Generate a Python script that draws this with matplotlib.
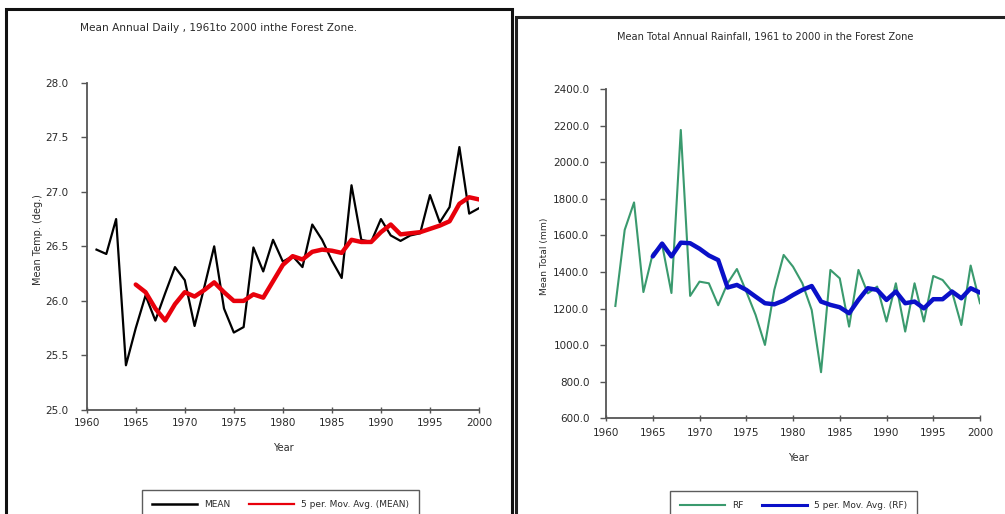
import matplotlib
matplotlib.use("Agg")
import matplotlib.pyplot as plt
from matplotlib.patches import Rectangle
from matplotlib.lines import Line2D
from matplotlib.ticker import FormatStrFormatter

plt.rcParams['font.family'] = ['DejaVu Sans']

years = list(range(1961, 2001))
ma_years = list(range(1965, 2001))

temp_mean = [26.47, 26.43, 26.75, 25.41, 25.75, 26.05, 25.82, 26.07, 26.31, 26.19,
             25.77, 26.13, 26.50, 25.93, 25.71, 25.76, 26.49, 26.27, 26.56, 26.36,
             26.41, 26.31, 26.70, 26.56, 26.37, 26.21, 27.06, 26.56, 26.54, 26.75,
             26.60, 26.55, 26.60, 26.62, 26.97, 26.72, 26.86, 27.41, 26.80, 26.85]
temp_ma = [26.15, 26.08, 25.93, 25.82, 25.97, 26.08, 26.04, 26.10, 26.17, 26.08,
           26.00, 26.00, 26.06, 26.03, 26.18, 26.33, 26.41, 26.38, 26.45, 26.47,
           26.46, 26.44, 26.56, 26.54, 26.54, 26.63, 26.70, 26.61, 26.62, 26.63,
           26.66, 26.69, 26.73, 26.89, 26.95, 26.93]

rain_rf = [1214, 1630, 1780, 1290, 1500, 1550, 1285, 2176, 1269, 1347,
           1338, 1218, 1338, 1416, 1293, 1165, 1001, 1302, 1493, 1429,
           1338, 1192, 852, 1411, 1365, 1101, 1411, 1283, 1320, 1129,
           1338, 1074, 1338, 1129, 1378, 1356, 1293, 1110, 1435, 1229]
rain_ma = [1485, 1555, 1485, 1560, 1557, 1527, 1490, 1465, 1315, 1329,
           1302, 1265, 1229, 1223, 1243, 1274, 1302, 1323, 1238, 1220,
           1207, 1174, 1247, 1311, 1302, 1247, 1293, 1229, 1238, 1201,
           1251, 1251, 1293, 1256, 1311, 1287]

W, H = 1005, 514
fig = plt.figure(figsize=(W / 100, H / 100), dpi=100)

def fx(px):
    return px / W

def fy(py):
    return 1 - py / H

# panel frames
fig.patches.append(Rectangle((fx(6), fy(530)), fx(512 - 6), fy(9) - fy(530),
                             transform=fig.transFigure, fill=False,
                             edgecolor='#111111', linewidth=2.2))
fig.patches.append(Rectangle((fx(516), fy(530)), fx(1020 - 516), fy(17) - fy(530),
                             transform=fig.transFigure, fill=False,
                             edgecolor='#222222', linewidth=2.2))

txt_color = '#2a2a2a'
ax_color = '#555555'
fs = 7.5


def style(ax):
    for s in ['top', 'right']:
        ax.spines[s].set_visible(False)
    for s in ['left', 'bottom']:
        ax.spines[s].set_color(ax_color)
        ax.spines[s].set_linewidth(1.3)
    ax.tick_params(axis='y', direction='out', length=4, width=1, color=ax_color,
                   labelsize=fs, labelcolor=txt_color, pad=9)
    ax.tick_params(axis='x', direction='inout', length=4, width=1, color=ax_color,
                   labelsize=fs, labelcolor=txt_color, pad=4)
    ax.set_facecolor('none')


def add_legend(handles, labels, x0, y0):
    leg = fig.legend(handles, labels, ncol=2,
                     loc='upper left', bbox_to_anchor=(fx(x0), fy(y0)),
                     prop={'size': 6.5}, frameon=True, fancybox=False,
                     edgecolor='#333333', handlelength=5.0, handletextpad=0.8,
                     columnspacing=2.0, borderaxespad=0, borderpad=1.1)
    leg.get_frame().set_linewidth(1.0)
    for t in leg.get_texts():
        t.set_color(txt_color)
    return leg


# Left chart
ax1 = fig.add_axes([fx(86.7), fy(410), fx(479 - 86.7), fy(82.7) - fy(410)])
ax1.plot(years, temp_mean, color='black', linewidth=1.6)
ax1.plot(ma_years, temp_ma, color='#e8000b', linewidth=3.2, solid_capstyle='round')
ax1.set_xlim(1960, 2000)
ax1.set_ylim(25.0, 28.0)
ax1.set_xticks(range(1960, 2001, 5))
ax1.set_yticks([25.0, 25.5, 26.0, 26.5, 27.0, 27.5, 28.0])
ax1.yaxis.set_major_formatter(FormatStrFormatter('%.1f'))
style(ax1)
ax1.set_xlabel('Year', fontsize=7, color=txt_color)
ax1.xaxis.set_label_coords(0.5, -0.101)
ax1.set_ylabel('Mean Temp. (deg.)', fontsize=7, color=txt_color)
ax1.yaxis.set_label_coords(-0.111, 0.522)
fig.text(fx(219), fy(28), 'Mean Annual Daily , 1961to 2000 inthe Forest Zone.',
         fontsize=7.6, color=txt_color, ha='center', va='center')
add_legend([Line2D([], [], color='black', lw=1.8),
            Line2D([], [], color='#e8000b', lw=1.6)],
           ['MEAN', '5 per. Mov. Avg. (MEAN)'], 142, 490)

# Right chart
ax2 = fig.add_axes([fx(606), fy(418.3), fx(980 - 606), fy(89) - fy(418.3)])
ax2.plot(years, rain_rf, color='#3a9a6e', linewidth=1.5)
ax2.plot(ma_years, rain_ma, color='#0a10c8', linewidth=3.2, solid_capstyle='round')
ax2.set_xlim(1960, 2000)
ax2.set_ylim(600, 2400)
ax2.set_xticks(range(1960, 2001, 5))
ax2.set_yticks(range(600, 2401, 200))
ax2.yaxis.set_major_formatter(FormatStrFormatter('%.1f'))
style(ax2)
ax2.tick_params(axis='x', pad=5)
ax2.tick_params(axis='y', pad=8)
ax2.set_xlabel('Year', fontsize=7, color=txt_color)
ax2.xaxis.set_label_coords(0.513, -0.104)
ax2.set_ylabel('Mean Total (mm)', fontsize=6.6, color=txt_color)
ax2.yaxis.set_label_coords(-0.152, 0.493)
fig.text(fx(765), fy(37), 'Mean Total Annual Rainfall, 1961 to 2000 in the Forest Zone',
         fontsize=7.1, color=txt_color, ha='center', va='center')
add_legend([Line2D([], [], color='#3a9a6e', lw=1.5),
            Line2D([], [], color='#0a10c8', lw=2.2)],
           ['RF', '5 per. Mov. Avg. (RF)'], 670, 491)

fig.savefig('out.png', dpi=100)
